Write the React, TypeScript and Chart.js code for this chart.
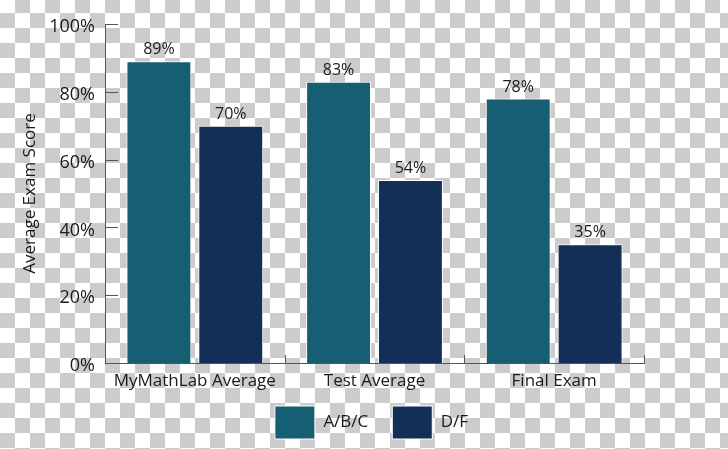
import React, { useEffect, useRef } from "react";
import { Chart, registerables } from "chart.js";

Chart.register(...registerables);

const categories = ["MyMathLab Average", "Test Average", "Final Exam"];
const seriesNames = ["A/B/C", "D/F"];
const abcValues = [89, 83, 78];
const dfValues = [70, 54, 35];
const yTicks = [0, 20, 40, 60, 80, 100];
const yTitle = "Average Exam Score";

const FONT = "'Open Sans', 'Noto Sans', sans-serif";
const TEXT = "#1a1a1a";
const AXIS = "#555555";

const innerTicks = {
  id: "innerTicks",
  afterDraw(chart: any) {
    const { ctx, chartArea } = chart;
    const x = chart.scales.x;
    const y = chart.scales.y;
    ctx.save();
    ctx.strokeStyle = AXIS;
    ctx.lineWidth = 1;
    ctx.beginPath();
    yTicks.forEach((v) => {
      const py = Math.round(y.getPixelForValue(v)) + 0.5;
      ctx.moveTo(chartArea.left, py);
      ctx.lineTo(chartArea.left + 13, py);
    });
    for (let i = 0; i < categories.length; i++) {
      const px =
        i < categories.length - 1
          ? (x.getPixelForValue(i) + x.getPixelForValue(i + 1)) / 2
          : chartArea.right;
      const rx = Math.round(px) + 0.5;
      ctx.moveTo(rx, chartArea.bottom);
      ctx.lineTo(rx, chartArea.bottom - 8);
    }
    ctx.stroke();
    ctx.restore();
  },
};

const valueLabels = {
  id: "valueLabels",
  afterDatasetsDraw(chart: any) {
    const { ctx } = chart;
    ctx.save();
    ctx.font = `16px ${FONT}`;
    ctx.fillStyle = TEXT;
    ctx.textAlign = "center";
    ctx.textBaseline = "alphabetic";
    chart.data.datasets.forEach((ds: any, di: number) => {
      const meta = chart.getDatasetMeta(di);
      meta.data.forEach((bar: any, i: number) => {
        ctx.fillText(`${ds.data[i]}%`, bar.x, bar.y - 7);
      });
    });
    ctx.restore();
  },
};

const layoutTweaks = {
  id: "layoutTweaks",
  afterLayout(chart: any) {
    const lg = chart.legend;
    if (lg) {
      lg.left = chart.chartArea.left - 3;
      lg.right = chart.chartArea.right - 3;
    }
    const xs = chart.scales.x;
    if (xs) {
      // let the category labels extend below the thin axis box without clipping
      xs.bottom = xs.bottom + 20;
    }
  },
};

export default function App() {
  const ref = useRef<HTMLCanvasElement | null>(null);

  useEffect(() => {
    if (!ref.current) return;
    const chart = new Chart(ref.current, {
      type: "bar",
      data: {
        labels: categories,
        datasets: [
          {
            label: seriesNames[0],
            data: abcValues,
            backgroundColor: "#165e72",
            borderColor: "#ffffff",
            borderWidth: 1,
            categoryPercentage: 0.8,
            barPercentage: 0.903,
          },
          {
            label: seriesNames[1],
            data: dfValues,
            backgroundColor: "#132f57",
            borderColor: "#ffffff",
            borderWidth: 1,
            categoryPercentage: 0.8,
            barPercentage: 0.903,
          },
        ],
      },
      options: {
        animation: false,
        responsive: true,
        maintainAspectRatio: false,
        layout: { padding: { top: 24, right: 84, bottom: 0, left: 0 } },
        plugins: {
          tooltip: { enabled: false },
          legend: {
            position: "bottom",
            labels: {
              boxWidth: 40,
              boxHeight: 33,
              padding: 24,
              color: TEXT,
              font: { family: FONT, size: 17 },
            },
          },
        },
        scales: {
          x: {
            grid: { display: false, drawTicks: false },
            border: { display: true, color: AXIS, width: 1 },
            ticks: {
              color: TEXT,
              padding: 8,
              font: { family: FONT, size: 17 },
              maxRotation: 0,
              autoSkip: false,
            },
            afterFit(scale: any) {
              scale.height = 19;
            },
          },
          y: {
            min: 0,
            max: 100,
            grid: { display: false, drawTicks: false },
            border: { display: true, color: AXIS, width: 1 },
            ticks: {
              stepSize: 20,
              color: TEXT,
              padding: 10,
              labelOffset: 3,
              font: { family: FONT, size: 18 },
              callback: (v: any) => `${v}%`,
            },
            title: {
              display: true,
              text: yTitle,
              color: TEXT,
              font: { family: FONT, size: 17 },
              padding: { top: 20, bottom: 0 },
            },
            afterFit(scale: any) {
              scale.width = 105;
            },
          },
        },
      },
      plugins: [innerTicks, valueLabels, layoutTweaks],
    });
    return () => chart.destroy();
  }, []);

  return (
    <div
      style={{
        position: "fixed",
        left: 0,
        top: 0,
        width: 728,
        height: 449,
        backgroundImage:
          "repeating-conic-gradient(#cccccc 0% 25%, #ffffff 0% 50%)",
        backgroundSize: "30px 30px",
        backgroundPosition: "0px -2px",
      }}
    >
      <canvas ref={ref} />
    </div>
  );
}
